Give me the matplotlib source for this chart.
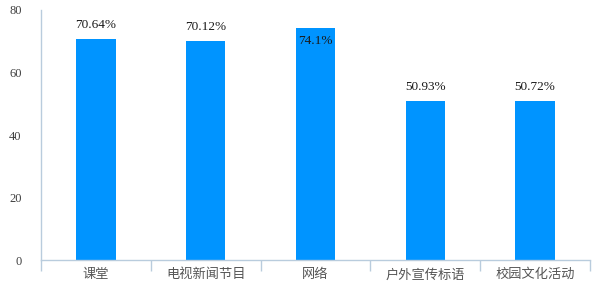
import numpy as np
import matplotlib
matplotlib.use("Agg")
import matplotlib.pyplot as plt

categories = ["课堂", "电视新闻节目", "网络", "户外宣传标语", "校园文化活动"]
values = [70.64, 70.12, 74.1, 50.93, 50.72]
value_labels = ["70.64%", "70.12%", "74.1%", "50.93%", "50.72%"]
y_ticks = [0, 20, 40, 60, 80]

BAR = "#0094FF"
AXIS = "#B9CCDD"

fig = plt.figure(figsize=(6, 3), dpi=100)
ax = fig.add_axes([0.0683, 0.1333, 0.915, 0.8334])

x = np.arange(len(categories))
ax.bar(x, values, width=0.36, color=BAR, zorder=2)

ax.set_xlim(-0.5, len(categories) - 0.5)
ax.set_ylim(0, 80)

for s in ["top", "right"]:
    ax.spines[s].set_visible(False)
for s in ["left", "bottom"]:
    ax.spines[s].set_color(AXIS)
    ax.spines[s].set_linewidth(1)

ax.set_yticks(y_ticks)
ax.set_yticklabels([str(v) for v in y_ticks], family="Liberation Serif",
                   fontsize=9, color="#404040")
ax.tick_params(axis="y", length=0, pad=14)

ax.set_xticks(x)
ax.set_xticklabels(categories, family=["Noto Sans CJK SC", "DejaVu Sans"],
                   fontsize=9.5, color="#555555")
ax.tick_params(axis="x", which="major", length=0, pad=6)
ax.set_xticks(np.arange(-0.5, len(categories)), minor=True)
ax.tick_params(axis="x", which="minor", length=8, color=AXIS, width=1)

# the tallest label sits inside the bar, the rest above
for xi, v, lab in zip(x, values, value_labels):
    if v > 72:
        ax.annotate(lab, (xi, v), xytext=(0, -5), textcoords="offset points",
                    ha="center", va="top", family="Liberation Serif",
                    fontsize=9.5, color="#1a1a1a", zorder=3)
    else:
        ax.annotate(lab, (xi, v), xytext=(0, 6), textcoords="offset points",
                    ha="center", va="bottom", family="Liberation Serif",
                    fontsize=9.5, color="#1a1a1a", zorder=3)

fig.savefig("out.png", dpi=100)
